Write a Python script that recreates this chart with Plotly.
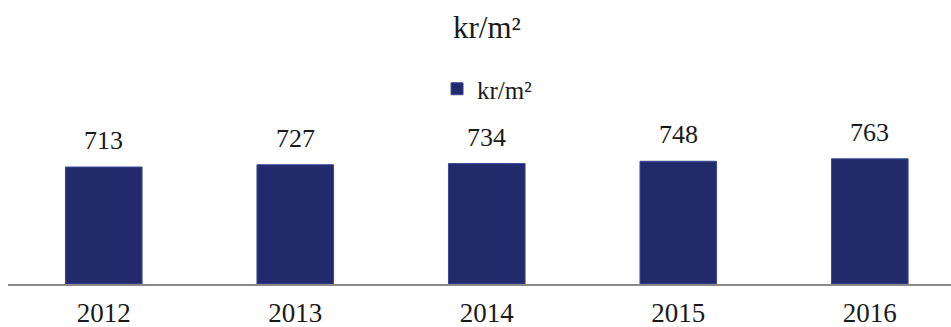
import plotly.graph_objects as go

years = ["2012", "2013", "2014", "2015", "2016"]
price_per_m2 = [713, 727, 734, 748, 763]
series_name = "kr/m²"
chart_title = "kr/m²"

FONT = "Liberation Serif"
BAR_COLOR = "#222a6c"
TEXT_COLOR = "#1a1a1a"

fig = go.Figure()
fig.add_trace(go.Bar(
    x=years,
    y=price_per_m2,
    name=series_name,
    width=0.4,
    marker=dict(color=BAR_COLOR, line=dict(color="#3a4a9a", width=1)),
    showlegend=True,
))

# value labels above each bar (category index keeps numeric-looking names unambiguous)
for idx, v in enumerate(price_per_m2):
    fig.add_annotation(
        x=idx, y=v, text=str(v), showarrow=False,
        xref="x", yref="y",
        yanchor="bottom", yshift=10,
        font=dict(family=FONT, size=26, color=TEXT_COLOR),
    )

fig.update_layout(
    width=951, height=327,
    margin=dict(l=8, r=0, t=0, b=43, autoexpand=False),
    paper_bgcolor="white", plot_bgcolor="white",
    title=dict(
        text=chart_title, x=0.512, xanchor="center",
        y=1 - 27 / 327, yanchor="middle", yref="container",
        font=dict(family=FONT, size=31, color=TEXT_COLOR),
    ),
    legend=dict(
        orientation="h", x=0.508, xanchor="center",
        y=1 - 89 / 284, yanchor="middle",
        font=dict(family=FONT, size=25, color=TEXT_COLOR),
        itemwidth=30,
    ),
    showlegend=True,
    font=dict(family=FONT),
)

fig.update_xaxes(
    type="category", range=[-0.5, 4.424], automargin=False,
    showline=True, linecolor="#8a8a8a", linewidth=2,
    showgrid=False, zeroline=False, ticks="",
    ticklabelstandoff=4,
    tickfont=dict(family=FONT, size=27, color=TEXT_COLOR),
)
fig.update_yaxes(
    range=[0, 1731], automargin=False,
    showticklabels=False, ticks="", showline=False,
    showgrid=False, zeroline=False,
)

fig.write_html("out.html")
